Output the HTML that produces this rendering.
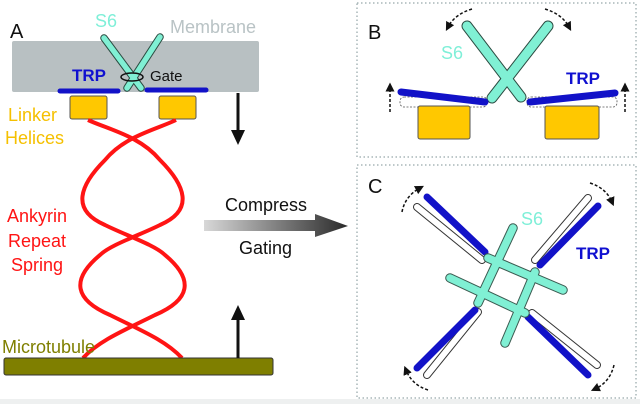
<!DOCTYPE html>
<html><head><meta charset="utf-8"><style>
html,body{margin:0;padding:0;background:#fff;}
svg{display:block;font-family:"Liberation Sans",sans-serif;}
</style></head><body>
<svg width="640" height="404" viewBox="0 0 640 404" xmlns="http://www.w3.org/2000/svg">
<defs>
<linearGradient id="g" x1="0" x2="1" y1="0" y2="0"><stop offset="0" stop-color="#d8d8d8"/><stop offset="1" stop-color="#2a2a2a"/></linearGradient>
<marker id="ah" markerWidth="6" markerHeight="6" refX="3" refY="3" orient="auto"><path d="M0,0 L6,3 L0,6 z" fill="#111"/></marker>
</defs>
<rect x="0" y="399" width="640" height="5" fill="#eef0f0"/>
<!-- Panel A -->
<text x="10" y="38" font-size="20" fill="#111">A</text>
<text x="170" y="33" font-size="18" fill="#b9c3c5">Membrane</text>
<rect x="12" y="41" width="247" height="51" rx="2" fill="#b8c0c2"/>
<text x="95" y="27" font-size="18" fill="#7fefd8">S6</text>
<g stroke="#2a4a40" stroke-width="7.5" stroke-linecap="round"><line x1="104" y1="38" x2="141" y2="88"/><line x1="160" y1="37" x2="127" y2="88"/></g>
<g stroke="#80f0d4" stroke-width="5.5" stroke-linecap="round"><line x1="104" y1="38" x2="141" y2="88"/><line x1="160" y1="37" x2="127" y2="88"/></g>
<ellipse cx="132" cy="77" rx="11" ry="4" fill="none" stroke="#111" stroke-width="1.5"/>
<text x="150" y="81" font-size="15" fill="#111">Gate</text>
<text x="72" y="81" font-size="17" font-weight="bold" fill="#1010d0">TRP</text>
<g stroke="#1212c8" stroke-width="5" stroke-linecap="round"><line x1="60" y1="91" x2="118" y2="91"/><line x1="147" y1="90" x2="206" y2="90"/></g>
<rect x="70" y="96" width="37" height="23" rx="2" fill="#ffc800" stroke="#555" stroke-width="1"/>
<rect x="159" y="96" width="37" height="23" rx="2" fill="#ffc800" stroke="#555" stroke-width="1"/>
<text x="8" y="121" font-size="18" fill="#f5c000">Linker</text>
<text x="5" y="144" font-size="18" fill="#f5c000">Helices</text>
<line x1="238" y1="93" x2="238" y2="133" stroke="#111" stroke-width="3"/>
<path d="M231,130 L245,130 L238,145 z" fill="#111"/>
<g fill="none" stroke="#ff1414" stroke-width="4">
<path d="M88,120 C110,130 140,136 160,160 C185,185 195,210 160,225 C140,235 110,245 100,255 C70,280 75,300 110,315 C140,330 165,340 182,358"/>
<path d="M176,120 C155,130 125,136 105,160 C80,185 70,210 105,225 C125,235 155,245 165,255 C195,280 190,300 155,315 C125,330 100,340 83,358"/>
</g>
<text x="37" y="222" font-size="18" fill="#ff1414" text-anchor="middle">Ankyrin</text>
<text x="37" y="247" font-size="18" fill="#ff1414" text-anchor="middle">Repeat</text>
<text x="37" y="271" font-size="18" fill="#ff1414" text-anchor="middle">Spring</text>
<text x="2" y="353" font-size="18" fill="#7f7f00">Microtubule</text>
<rect x="4" y="358" width="269" height="17" rx="2" fill="#7f7f00" stroke="#333" stroke-width="1"/>
<line x1="238" y1="358" x2="238" y2="317" stroke="#111" stroke-width="3"/>
<path d="M231,320 L245,320 L238,305 z" fill="#111"/>
<path d="M204,220 L315,220 L315,214 L348,226 L315,237 L315,231 L204,231 z" fill="url(#g)"/>
<text x="225" y="211" font-size="18" fill="#111">Compress</text>
<text x="239" y="254" font-size="18" fill="#111">Gating</text>
<!-- Panel boxes -->
<rect x="357" y="3" width="279" height="154" fill="none" stroke="#a8b6b8" stroke-width="1.5" stroke-dasharray="1.5,2.5"/>
<rect x="357" y="165" width="279" height="233" fill="none" stroke="#a8b6b8" stroke-width="1.5" stroke-dasharray="1.5,2.5"/>
<!-- Panel B -->
<text x="368" y="39" font-size="20" fill="#111">B</text>
<g stroke="#2a4a40" stroke-width="11" stroke-linecap="round"><line x1="467" y1="26" x2="521" y2="97"/><line x1="548" y1="26" x2="492" y2="98"/></g>
<g stroke="#80f0d4" stroke-width="9" stroke-linecap="round"><line x1="467" y1="26" x2="521" y2="97"/><line x1="548" y1="26" x2="492" y2="98"/></g>
<text x="441" y="59" font-size="18" fill="#7fefd8">S6</text>
<g fill="none" stroke="#111" stroke-width="1.5" stroke-dasharray="3,2">
<path d="M472,9 Q455,14 448,27" marker-end="url(#ah)"/>
<path d="M545,9 Q562,14 569,27" marker-end="url(#ah)"/>
<line x1="390" y1="112" x2="390" y2="87" marker-end="url(#ah)"/>
<line x1="625" y1="112" x2="625" y2="87" marker-end="url(#ah)"/>
</g>
<g fill="#fff" stroke="#555" stroke-width="0.8" stroke-dasharray="2,1.5"><rect x="400" y="97" width="87" height="10" rx="4"/><rect x="527" y="97" width="90" height="10" rx="4"/></g>
<g stroke="#1212c8" stroke-width="7" stroke-linecap="round"><line x1="401" y1="92" x2="485" y2="102"/><line x1="530" y1="102" x2="615" y2="93"/></g>
<text x="566" y="84" font-size="17" font-weight="bold" fill="#1010d0">TRP</text>
<rect x="418" y="106" width="52" height="33" rx="2" fill="#ffc800" stroke="#555" stroke-width="1"/>
<rect x="545" y="106" width="54" height="33" rx="2" fill="#ffc800" stroke="#555" stroke-width="1"/>
<!-- Panel C -->
<text x="368" y="193" font-size="20" fill="#111">C</text>
<g stroke="#333" stroke-width="8" stroke-linecap="round"><line x1="417" y1="207" x2="482" y2="260"/><line x1="588" y1="198" x2="535" y2="260"/><line x1="478" y1="312" x2="427" y2="375"/><line x1="532" y1="313" x2="597" y2="365"/></g>
<g stroke="#fff" stroke-width="6" stroke-linecap="round"><line x1="417" y1="207" x2="482" y2="260"/><line x1="588" y1="198" x2="535" y2="260"/><line x1="478" y1="312" x2="427" y2="375"/><line x1="532" y1="313" x2="597" y2="365"/></g>
<g stroke="#1212c8" stroke-width="7" stroke-linecap="round"><line x1="427" y1="197" x2="485" y2="252"/><line x1="598" y1="206" x2="540" y2="265"/><line x1="475" y1="310" x2="417" y2="368"/><line x1="528" y1="317" x2="588" y2="375"/></g>
<g stroke="#3a5a50" stroke-width="9.5" stroke-linecap="round"><line x1="513" y1="228" x2="478" y2="303"/><line x1="488" y1="258" x2="563" y2="290"/><line x1="535" y1="272" x2="505" y2="343"/><line x1="450" y1="278" x2="525" y2="313"/></g>
<g stroke="#80f0d4" stroke-width="7.5" stroke-linecap="round"><line x1="513" y1="228" x2="478" y2="303"/><line x1="488" y1="258" x2="563" y2="290"/><line x1="535" y1="272" x2="505" y2="343"/><line x1="450" y1="278" x2="525" y2="313"/></g>
<text x="521" y="225" font-size="18" fill="#7fefd8">S6</text>
<text x="576" y="259" font-size="17" font-weight="bold" fill="#1010d0">TRP</text>
<g fill="none" stroke="#111" stroke-width="1.5" stroke-dasharray="3,2">
<path d="M402,212 Q405,196 420,188" marker-end="url(#ah)"/>
<path d="M590,183 Q606,188 612,202" marker-end="url(#ah)"/>
<path d="M428,390 Q412,385 406,370" marker-end="url(#ah)"/>
<path d="M614,365 Q610,382 595,389" marker-end="url(#ah)"/>
</g>
</svg>
</body></html>
